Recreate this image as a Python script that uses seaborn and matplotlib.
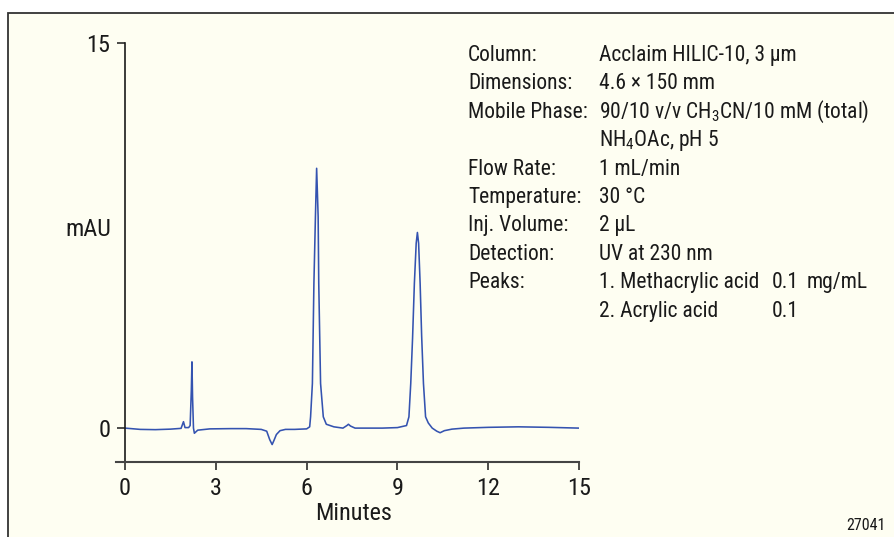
import matplotlib
matplotlib.use("Agg")
import matplotlib.pyplot as plt
from matplotlib.patches import Rectangle
from matplotlib import font_manager
import seaborn as sns
import pandas as pd

# ---- data ----
time_min = [0.0, 0.5, 1.0, 1.5, 1.85, 1.93, 1.98, 2.10, 2.15, 2.19, 2.21, 2.23, 2.26,
            2.29, 2.40, 2.80, 3.50, 4.00, 4.50, 4.68, 4.78, 4.86, 4.92, 5.00, 5.12,
            5.30, 5.60, 6.00, 6.10, 6.13, 6.19, 6.24, 6.29, 6.33, 6.36, 6.38, 6.40,
            6.46, 6.55, 6.65, 6.90, 7.20, 7.33, 7.38, 7.45, 7.60, 8.00, 8.50, 9.00,
            9.30, 9.38, 9.44, 9.50, 9.56, 9.62, 9.66, 9.70, 9.75, 9.80, 9.86, 9.93,
            10.02, 10.15, 10.30, 10.41, 10.55, 10.80, 11.20, 12.00, 13.00, 14.00, 15.0]
mau = [0.0, -0.05, -0.06, -0.04, -0.01, 0.25, 0.02, 0.02, 0.10, 1.50, 2.58, 1.20, 0.0,
       -0.20, -0.08, -0.03, -0.02, -0.02, -0.05, -0.12, -0.45, -0.64, -0.48, -0.25, -0.10,
       -0.05, -0.05, -0.03, 0.05, 0.44, 1.74, 5.64, 8.23, 10.12, 9.00, 8.23, 5.64,
       1.74, 0.44, 0.15, 0.05, 0.0, 0.10, 0.15, 0.08, 0.0, 0.0, 0.0, 0.02,
       0.10, 0.44, 1.74, 3.50, 5.64, 7.20, 7.62, 7.20, 5.64, 3.60, 1.74, 0.44,
       0.20, 0.0, -0.12, -0.18, -0.10, -0.04, 0.0, 0.03, 0.05, 0.03, 0.0]

x_ticks = [0, 3, 6, 9, 12, 15]
y_ticks = [0, 15]

info_labels = ["Column:", "Dimensions:", "Mobile Phase:", "", "Flow Rate:", "Temperature:",
               "Inj. Volume:", "Detection:", "Peaks:", ""]
info_values = ["Acclaim HILIC-10, 3 µm", "4.6 × 150 mm",
               "90/10 v/v CH$_{3}$CN/10 mM (total)", "NH$_{4}$OAc, pH 5",
               "1 mL/min", "30 °C", "2 µL", "UV at 230 nm",
               "1. Methacrylic acid", "2. Acrylic acid"]
conc_values = ["", "", "", "", "", "", "", "", "0.1", "0.1"]
conc_units = ["", "", "", "", "", "", "", "", "mg/mL", ""]

df = pd.DataFrame({"Minutes": time_min, "mAU": mau})

# ---- fonts ----
available = {f.name for f in font_manager.fontManager.ttflist}
narrow = None
for cand in ["Liberation Sans Narrow", "Roboto Condensed", "Arial Narrow", "Open Sans Condensed"]:
    if cand in available:
        narrow = cand
        break
if narrow:
    main_font = narrow
    sz_tick, sz_label, sz_info, sz_id = 17.5, 17.5, 15.5, 11.5
else:
    main_font = "Liberation Sans"
    sz_tick, sz_label, sz_info, sz_id = 15.5, 14.5, 13.8, 10

sns.set_theme(style="ticks")
plt.rcParams["font.family"] = [main_font, "DejaVu Sans"]
plt.rcParams["mathtext.fontset"] = "custom"
plt.rcParams["mathtext.rm"] = main_font
plt.rcParams["mathtext.it"] = main_font
plt.rcParams["mathtext.default"] = "regular"

W, H = 894, 537
fig = plt.figure(figsize=(W / 100, H / 100), dpi=100, facecolor="white")

def fx(x):
    return x / W

def fy(y):
    return 1 - y / H

TXT = "#1a1a1a"

# cream panel with border
fig.patches.append(Rectangle((fx(8), -0.1), 1.2, fy(12.5) + 0.1, transform=fig.transFigure,
                             facecolor="#FEFEF2", edgecolor="#333333", linewidth=1.3, zorder=-10))

ax_left, ax_right, ax_top, ax_bot = 116, 579, 43, 462
ax = fig.add_axes([fx(ax_left), fy(ax_bot), (ax_right - ax_left) / W, (ax_bot - ax_top) / H])
ax.patch.set_visible(False)
ax.set_zorder(5)

sns.lineplot(data=df, x="Minutes", y="mAU", ax=ax, color="#3453B0", linewidth=1.15,
             estimator=None, sort=False)

ax.set_xlim(-0.3, 15)
ax.set_ylim(-1.32, 15)
ax.set_xticks(x_ticks)
ax.set_yticks(y_ticks)
ax.set_xticklabels([str(v) for v in x_ticks])
ax.set_yticklabels([str(v) for v in y_ticks])

for s in ["top", "right"]:
    ax.spines[s].set_visible(False)
ax.spines["left"].set_position(("data", 0))
ax.spines["left"].set_bounds(-1.32, 15)
ax.spines["left"].set_color(TXT)
ax.spines["bottom"].set_color("#444444")
ax.spines["left"].set_linewidth(1.2)
ax.spines["bottom"].set_linewidth(1.5)

ax.tick_params(axis="both", direction="out", length=5.5, width=1.1, color=TXT,
               labelsize=sz_tick, labelcolor=TXT, pad=5)
ax.set_xlabel("Minutes", fontsize=sz_label, color=TXT)
ax.set_ylabel("mAU", fontsize=sz_label, color=TXT, rotation=0, va="center", ha="center")
ax.xaxis.set_label_coords((354 - ax_left) / (ax_right - ax_left), (ax_bot - 513.7) / (ax_bot - ax_top))
ax.yaxis.set_label_coords((88 - ax_left) / (ax_right - ax_left), (ax_bot - 229) / (ax_bot - ax_top))
ax.xaxis.label.set_va("center")

# info block
y0, step = 61, 28.4
for i in range(len(info_labels)):
    yb = fy(y0 + i * step)
    if info_labels[i]:
        fig.text(fx(468), yb, info_labels[i], fontsize=sz_info, color=TXT, va="baseline", ha="left")
    if info_values[i]:
        fig.text(fx(599), yb, info_values[i], fontsize=sz_info, color=TXT, va="baseline", ha="left")
    if conc_values[i]:
        fig.text(fx(772), yb, conc_values[i], fontsize=sz_info, color=TXT, va="baseline", ha="left")
    if conc_units[i]:
        fig.text(fx(807), yb, conc_units[i], fontsize=sz_info, color=TXT, va="baseline", ha="left")

fig.text(fx(886), fy(525), "27041", fontsize=sz_id, color=TXT, ha="right", va="center")

fig.savefig("out.png", dpi=100, facecolor="white")
